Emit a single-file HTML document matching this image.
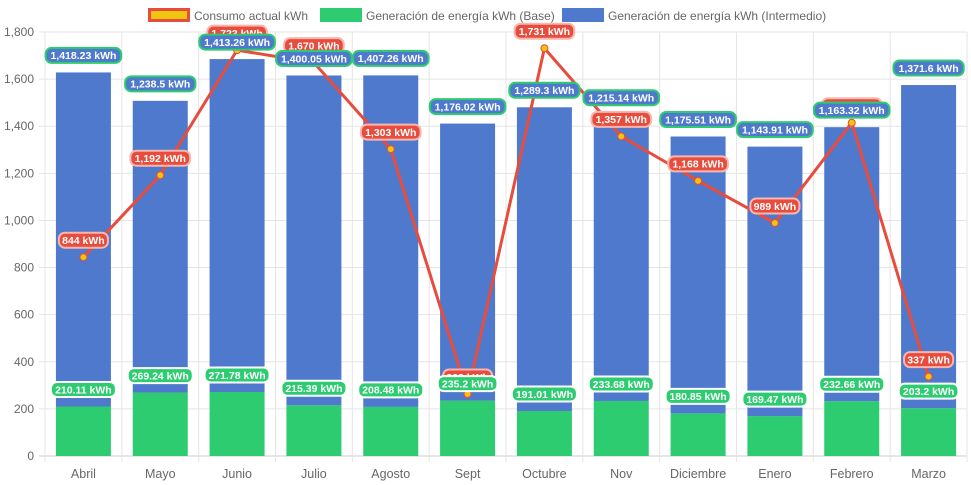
<!DOCTYPE html>
<html><head><meta charset="utf-8"><style>
body{margin:0;background:#fff;}
svg{display:block;font-family:"Liberation Sans",sans-serif;}
</style></head><body>
<svg id="c" width="971" height="485"></svg>
<script>
const categories=["Abril","Mayo","Junio","Julio","Agosto","Sept","Octubre","Nov","Diciembre","Enero","Febrero","Marzo"];
const baseVals=[210.11,269.24,271.78,215.39,208.48,235.2,191.01,233.68,180.85,169.47,232.66,203.2];
const interVals=[1418.23,1238.5,1413.26,1400.05,1407.26,1176.02,1289.3,1215.14,1175.51,1143.91,1163.32,1371.6];
const consumo=[844,1192,1723,1670,1303,263,1731,1357,1168,989,1415,337];
const yTicks=[0,200,400,600,800,1000,1200,1400,1600,1800];

const svg=document.getElementById('c');const NS='http://www.w3.org/2000/svg';
const L=45,R=967,T=32,B=456,max=1800;
const bw=(R-L)/categories.length;
const y=v=>B-(v/max)*(B-T);
const xc=i=>L+bw*(i+0.5);
function mk(tag,attrs,parent){const e=document.createElementNS(NS,tag);for(const k in attrs)e.setAttribute(k,attrs[k]);(parent||svg).appendChild(e);return e;}
const fmt=v=>v.toLocaleString('en-US')+' kWh';

const grid=mk('g',{});

yTicks.forEach(t=>{
  mk('line',{x1:L-6,x2:R,y1:y(t),y2:y(t),stroke:t===0?'#ccc':'#e5e5e5','stroke-width':1},grid);
  const tx=mk('text',{x:L-11,y:y(t)+4,'text-anchor':'end','font-size':12,fill:'#666'});
  tx.textContent=t.toLocaleString('en-US');
  
});
for(let i=0;i<=categories.length;i++){mk('line',{x1:L+bw*i,x2:L+bw*i,y1:T,y2:B+6,stroke:'#e5e5e5'},grid);}
categories.forEach((c,i)=>{
  const tx=mk('text',{x:xc(i),y:478,'text-anchor':'middle','font-size':12.5,fill:'#666'});
  tx.textContent=c;
  
});
const barW=55;
categories.forEach((c,i)=>{
  const b=mk('rect',{x:xc(i)-barW/2,y:y(baseVals[i]),width:barW,height:B-y(baseVals[i]),fill:'#2ecc71'});
  
  const top=baseVals[i]+interVals[i];
  const r=mk('rect',{x:xc(i)-barW/2,y:y(top),width:barW,height:y(baseVals[i])-y(top),fill:'#4e79cc'});
  
});
const pts=consumo.map((v,i)=>xc(i)+','+y(v)).join(' ');
const line=mk('polyline',{points:pts,fill:'none',stroke:'#e74c3c','stroke-width':3});

consumo.forEach((v,i)=>{
  const p=mk('circle',{cx:xc(i),cy:y(v),r:3.5,fill:'#f1c40f',stroke:'#e74c3c','stroke-width':1});
  
});
function label(cx,cy,txt,fill,stroke,name){
  const g=mk('g',{});
  
  const w=txt.length*5.3+12;
  mk('rect',{x:cx-w/2,y:cy-7.5,width:w,height:15,rx:6,fill:fill,stroke:stroke,'stroke-width':2},g);
  const t=mk('text',{x:cx,y:cy+3.8,'text-anchor':'middle','font-size':10.5,'font-weight':'bold',fill:'#fff'},g);
  t.textContent=txt;
}
consumo.forEach((v,i)=>label(xc(i),y(v)-17,fmt(v),'#e74c3c','#f5b7b1','consumo-label'));
baseVals.forEach((v,i)=>label(xc(i),y(v)-17,fmt(v),'#2ecc71','#fff','base-label'));
interVals.forEach((v,i)=>label(xc(i),y(v+baseVals[i])-17,fmt(v),'#4e79cc','#2ecc71','intermedio-label'));
const leg=[["Consumo actual kWh","#f1c40f","#e74c3c",148],["Generación de energía kWh (Base)","#2ecc71","#2ecc71",320],["Generación de energía kWh (Intermedio)","#4e79cc","#4e79cc",562]];
leg.forEach(l=>{
  const g=mk('g',{});
  
  mk('rect',{x:l[3]+1.5,y:9.5,width:39,height:11,fill:l[1],stroke:l[2],'stroke-width':3},g);
  const t=mk('text',{x:l[3]+46,y:20,'font-size':12,fill:'#666'},g);t.textContent=l[0];
});
</script>
</body></html>
